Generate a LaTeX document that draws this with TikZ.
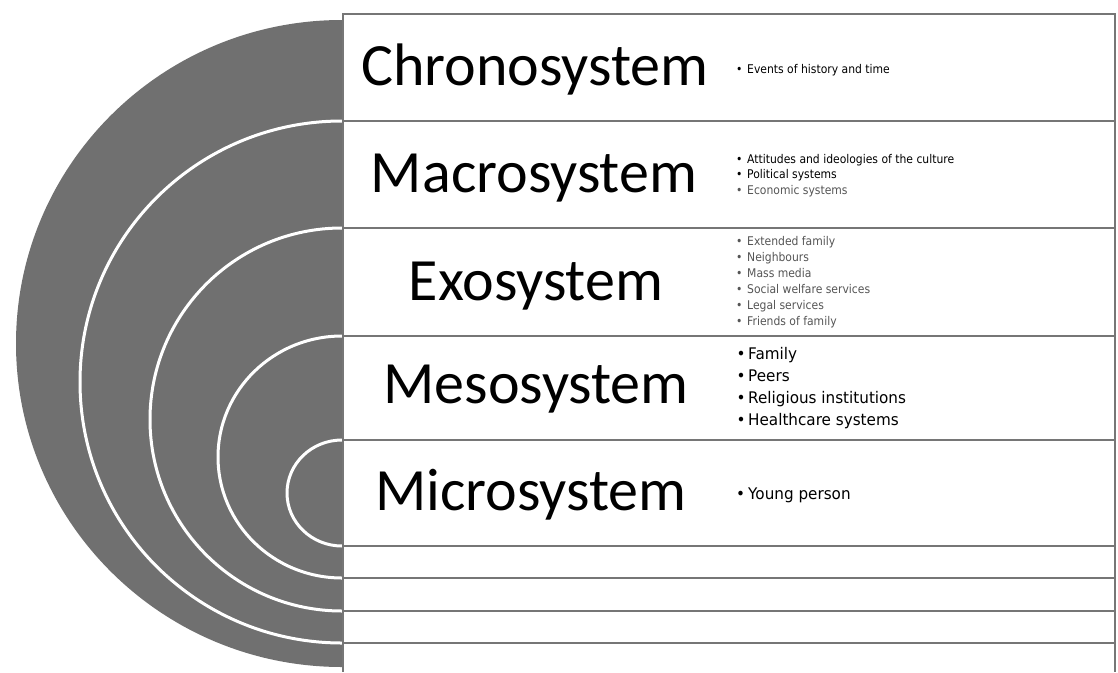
\documentclass[tikz,border=0pt]{standalone}
\usepackage{fontspec}
\setmainfont[Ligatures={NoCommon}]{Carlito}
\newfontfamily\itemsmallfont[FakeStretch=0.9]{DejaVu Sans}
\newfontfamily\itembigfont[FakeStretch=0.95]{DejaVu Sans}
\definecolor{disc}{RGB}{112,112,112}
\definecolor{rulegray}{RGB}{118,118,118}
\definecolor{softtext}{RGB}{85,85,85}
\newcommand{\bul}[1]{\makebox[#1][l]{\textbullet}}
\begin{document}
\begin{tikzpicture}[x=1pt,y=-1pt,
  rowline/.style={draw=rulegray,line width=2.4pt},
  ringline/.style={draw=white,line width=3pt},
  syslabel/.style={inner sep=0pt,anchor=base,font=\fontsize{60}{60}\selectfont},
  bigitem/.style={inner sep=0pt,anchor=base west,font=\itembigfont\fontsize{16}{16}\selectfont},
  smallitem/.style={inner sep=0pt,anchor=base west,font=\itemsmallfont\fontsize{12}{12}\selectfont},
  tinyitem/.style={inner sep=0pt,anchor=base west,text=softtext,font=\itemsmallfont\fontsize{12}{12}\selectfont}]
\useasboundingbox (0,0) rectangle (1118,672);
\fill[white] (0,0) rectangle (1118,672);
% disc
\fill[disc] (342,20) arc[start angle=270,end angle=90,x radius=326,y radius=323.5] -- cycle;
\draw[ringline] (342,121) arc[start angle=270,end angle=90,x radius=262,y radius=261];
\draw[ringline] (342,228) arc[start angle=270,end angle=90,x radius=192,y radius=191.5];
\draw[ringline] (342,336) arc[start angle=270,end angle=90,x radius=124,y radius=121];
\draw[ringline] (342,440) arc[start angle=270,end angle=90,x radius=55,y radius=53];
% table
\foreach \yy in {14,121,228,336,440,546,578,611,643}
  \draw[rowline] (342,\yy) -- (1115,\yy);
\draw[rowline] (343,13) -- (343,672);
\draw[rowline] (1115,13) -- (1115,672);
% labels
\node[syslabel] (chrono) at (535,85) {Chronosystem};
\node[syslabel] (macro) at (534,192) {Macrosystem};
\node[syslabel] (exo) at (536,300) {Exosystem};
\node[syslabel] (meso) at (536,403) {Mesosystem};
\node[syslabel] (micro) at (531,510) {Microsystem};
% items
\node[smallitem] (chrono1) at (736,73) {\bul{11pt}Events of history and time};
\foreach \t [count=\i] in {Attitudes and ideologies of the culture,Political systems}
  \node[smallitem] (macro\i) at (736,{163+15.5*(\i-1)}) {\bul{11pt}\t};
\node[smallitem,text=softtext] (macro3) at (736,194) {\bul{11pt}Economic systems};
\foreach \t [count=\i] in {Extended family,Neighbours,Mass media,Social welfare services,Legal services,Friends of family}
  \node[tinyitem] (exo\i) at (736,{245+16*(\i-1)}) {\bul{11pt}\t};
\foreach \t [count=\i] in {Family,Peers,Religious institutions,Healthcare systems}
  \node[bigitem] (meso\i) at (736.5,{359+22.3*(\i-1)}) {\bul{11.5pt}\t};
\node[bigitem] (micro1) at (736,499) {\bul{12pt}Young person};
\end{tikzpicture}
\end{document}
